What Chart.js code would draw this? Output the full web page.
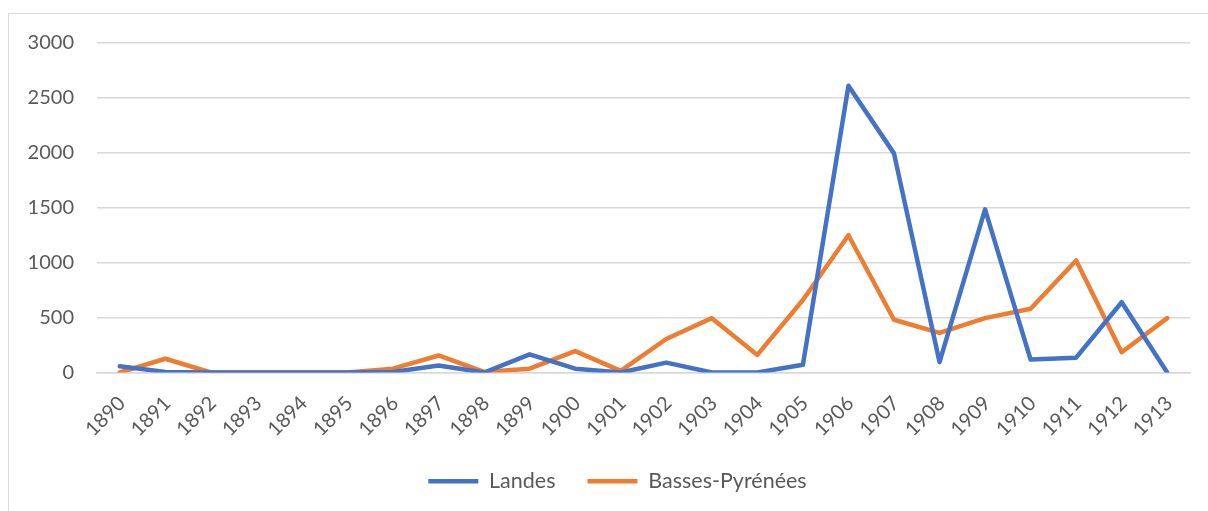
<!DOCTYPE html>
<html>
<head>
<meta charset="utf-8">
<script src="https://cdn.jsdelivr.net/npm/chart.js@4"></script>
<style>
    body { margin: 0; background: #fff; overflow: hidden; }
    #box {
        position: absolute;
        left: 8px; top: 13px;
        width: 1212px; height: 511px;
        border: 1px solid #d9d9d9;
        box-sizing: border-box;
    }
</style>
</head>
<body>
<div id="box"><canvas id="chart"></canvas></div>
<script>
const years = ['1890', '1891', '1892', '1893', '1894', '1895', '1896', '1897', '1898', '1899', '1900', '1901',
    '1902', '1903', '1904', '1905', '1906', '1907', '1908', '1909', '1910', '1911', '1912', '1913'];
const landes = [57, 5, 0, 0, 0, 0, 5, 64, 0, 165, 35, 0, 90, 0, 0, 70, 2610, 1995, 95, 1485, 118, 135, 640, 0];
const bassesPyrenees = [0, 125, 0, 0, 0, 0, 35, 155, 5, 35, 195, 15, 305, 495, 160, 660, 1250, 480, 360, 495, 580, 1020, 185, 495];
const yTicks = [0, 500, 1000, 1500, 2000, 2500, 3000];

const textColor = '#595959';
const gridColor = '#d9d9d9';
const family = 'Lato, "Open Sans", sans-serif';
const tickFont = { family, size: 20 };
const legendFont = { family, size: 21.5 };

function lineSet(label, data, color) {
    return {
        label, data,
        borderColor: color,
        backgroundColor: color,
        borderWidth: 4.5,
        borderCapStyle: 'round',
        borderJoinStyle: 'round',
        pointRadius: 0,
        pointHoverRadius: 0,
        tension: 0
    };
}

// nudge the legend a little right, like the original
const legendShift = {
    id: 'legendShift',
    afterLayout(chart) {
        chart.legend.left += 9;
        chart.legend.right += 9;
    }
};

new Chart(document.getElementById('chart'), {
    type: 'line',
    data: {
        labels: years,
        datasets: [
            lineSet('Landes', landes, '#4472c4'),
            lineSet('Basses-Pyrénées', bassesPyrenees, '#ed7d31')
        ]
    },
    plugins: [legendShift],
    options: {
        responsive: true,
        maintainAspectRatio: false,
        animation: false,
        layout: { padding: { top: 29, right: 29, left: 18, bottom: 21 } },
        plugins: {
            tooltip: { enabled: false },
            legend: {
                position: 'bottom',
                labels: {
                    usePointStyle: true,
                    pointStyle: 'line',
                    pointStyleWidth: 50,
                    boxHeight: 4,
                    padding: 32,
                    color: textColor,
                    font: legendFont
                }
            }
        },
        scales: {
            x: {
                offset: true,
                grid: { display: false, drawTicks: false },
                border: { color: gridColor, width: 1.5 },
                afterFit: (axis) => { axis.height = 66; },
                ticks: {
                    color: textColor,
                    font: tickFont,
                    minRotation: 45,
                    maxRotation: 45,
                    autoSkip: false,
                    padding: 19,
                    labelOffset: 2
                }
            },
            y: {
                min: 0,
                max: 3000,
                afterBuildTicks: (axis) => { axis.ticks = yTicks.map(v => ({ value: v })); },
                afterFit: (axis) => {
                    axis.width = 70;
                    axis.paddingTop = 0;
                    axis.paddingBottom = 0;
                },
                grid: { color: gridColor, lineWidth: 1.5, drawTicks: false },
                border: { display: false },
                ticks: {
                    color: textColor,
                    font: tickFont,
                    padding: 23,
                    callback: (v) => String(v)
                }
            }
        }
    }
});
</script>
</body>
</html>
